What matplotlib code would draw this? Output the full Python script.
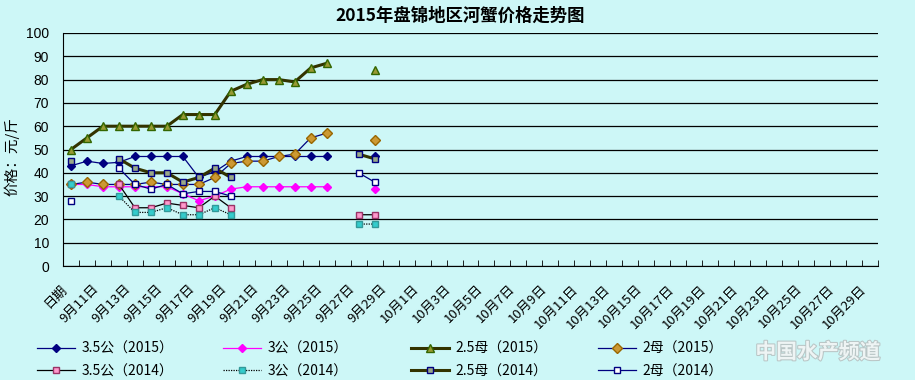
import numpy as np
import matplotlib
matplotlib.use("Agg")
import matplotlib.pyplot as plt
import matplotlib.patheffects as pe
from matplotlib.transforms import ScaledTranslation

plt.rcParams['font.family'] = ['Noto Sans CJK SC', 'DejaVu Sans']

nan = np.nan

# x categories (label shown on every other one)
categories = (["日期"] + [f"9月{d}日" for d in range(10, 31)]
              + [f"10月{d}日" for d in range(1, 30)])

# prices, 元/斤 (only the first 20 categories carry data)
m35_2015 = [43, 45, 44, 44.5, 47, 47, 47, 47, 38, 40.5, 45, 47, 47, 47, 47, 47, 47, nan, nan, 47]
m3_2015 = [35, 35, 34, 34, 34, 34, 34, 31, 28, 30, 33, 34, 34, 34, 34, 34, 34, nan, nan, 33]
f25_2015 = [50, 55, 60, 60, 60, 60, 60, 65, 65, 65, 75, 78, 80, 80, 79, 85, 87, nan, nan, 84]
f2_2015 = [35, 36, 35, 35, 35, 36, 35, 35, 35, 38, 44, 45, 45, 47, 48, 55, 57, nan, nan, 54]
m35_2014 = [35, nan, nan, 35, 25, 25, 27, 26, 25, 30, 25, nan, nan, nan, nan, nan, nan, nan, 22, 22]
m3_2014 = [35, nan, nan, 30, 23, 23, 25, 22, 22, 25, 22, nan, nan, nan, nan, nan, nan, nan, 18, 18]
f25_2014 = [45, nan, nan, 46, 42, 40, 40, 36, 38, 42, 38, nan, nan, nan, nan, nan, nan, nan, 48, 46]
f2_2014 = [28, nan, nan, 42, 35, 33, 35, 31, 32, 32, 30, nan, nan, nan, nan, nan, nan, nan, 40, 36]

labels = ["3.5公（2015）", "3公（2015）", "2.5母（2015）", "2母（2015）",
          "3.5公（2014）", "3公（2014）", "2.5母（2014）", "2母（2014）"]

bg = '#cdf7f7'
n = len(categories)


def pad(vals):
    return np.array(vals + [nan] * (n - len(vals)), dtype=float)


styles = [
    (m35_2015, dict(color='#000080', lw=0.9, marker='D', ms=4.2, mfc='#000080', mec='#000080')),
    (m3_2015, dict(color='#ff00ff', lw=0.9, marker='D', ms=4.2, mfc='#ff00ff', mec='#ff00ff')),
    (f25_2015, dict(color='#333300', lw=2.2, marker='^', ms=6, mfc='#999933', mec='#336600')),
    (f2_2015, dict(color='#000080', lw=0.9, marker='D', ms=4.8, mfc='#cc9933', mec='#996600')),
    (m35_2014, dict(color='#000000', lw=0.9, marker='s', ms=4.8, mfc='#ff99cc', mec='#993366')),
    (m3_2014, dict(color='#000000', lw=0.9, ls=(0, (1, 1)), marker='s', ms=4.8, mfc='#33cccc', mec='#339999')),
    (f25_2014, dict(color='#333300', lw=2.2, marker='s', ms=4.8, mfc='#99a888', mec='#000080')),
    (f2_2014, dict(color='#000080', lw=0.9, marker='s', ms=4.8, mfc='#ffffff', mec='#000080')),
]

fig = plt.figure(figsize=(9.15, 3.8), dpi=100, facecolor=bg)
ax = fig.add_axes([63 / 915, 1 - 266 / 380, 815 / 915, 233 / 380])
ax.set_facecolor(bg)

x = np.arange(n)
handles = []
for vals, st in styles:
    ln, = ax.plot(x, pad(vals), **st)
    handles.append(ln)

ax.set_xlim(-0.5, n - 0.5)
ax.set_ylim(0, 100)
ax.set_yticks(range(0, 101, 10))
ax.yaxis.grid(True, color='black', lw=0.9)
ax.set_axisbelow(True)
for s in ['top', 'right']:
    ax.spines[s].set_visible(False)
ax.tick_params(axis='y', length=0, pad=10, labelsize=10)
for t in ax.get_yticklabels():
    t.set_family('Liberation Sans')

ax.set_xticks(x[::2])
ax.set_xticklabels(categories[::2], rotation=45, ha='right', va='center',
                   rotation_mode='anchor', fontsize=9.5)
ax.set_xticks(np.arange(-0.5, n, 1), minor=True)
ax.tick_params(axis='x', which='major', length=0, pad=15)
ax.tick_params(axis='x', which='minor', length=4, direction='in', color='black')
offset = ScaledTranslation(-0.06, 0, fig.dpi_scale_trans)
for t in ax.get_xticklabels():
    t.set_transform(t.get_transform() + offset)

ax.set_ylabel("价格：元/斤", fontsize=10.5)
ax.yaxis.set_label_coords(-0.054, 0.47)

fig.text(460 / 915, 1 - 16 / 380, "2015年盘锦地区河蟹价格走势图",
         ha='center', va='center', fontsize=12.5, fontweight='bold')

# legend: four columns of two rows
col_x = [37, 223, 411, 598]
for i, cx in enumerate(col_x):
    fig.legend([handles[i], handles[i + 4]], [labels[i], labels[i + 4]],
               loc='upper left', bbox_to_anchor=(cx / 915, 1 - 342 / 380),
               frameon=False, borderpad=0, borderaxespad=0,
               handlelength=2.7, handletextpad=0.5, labelspacing=0.6,
               fontsize=10)

# watermark
fig.text(818 / 915, 1 - 352 / 380, "中国水产频道", ha='center', va='center',
         fontsize=15, fontweight='bold', color='#eef4f4',
         path_effects=[pe.withStroke(linewidth=1.5, foreground='#b9c6c6')])

fig.savefig("out.png", dpi=100, facecolor=bg)
